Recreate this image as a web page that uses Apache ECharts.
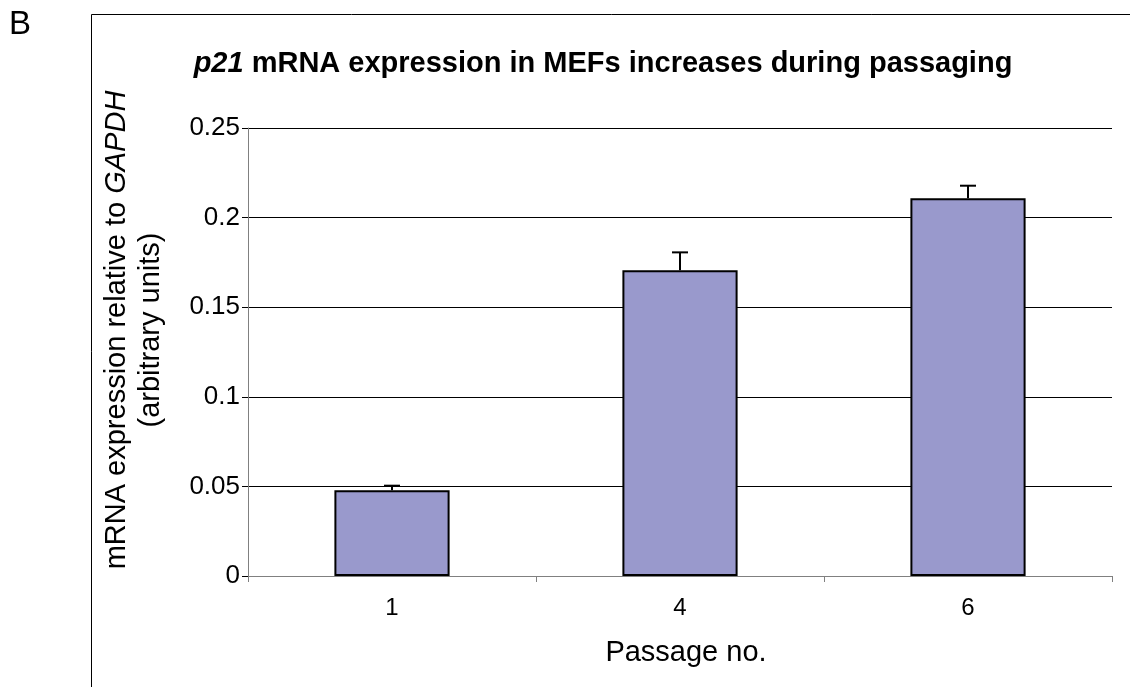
<!DOCTYPE html>
<html><head><meta charset="utf-8">
<script src="https://cdn.jsdelivr.net/npm/echarts@6/dist/echarts.min.js"></script>
<style>html,body{margin:0;padding:0;background:#fff}#c{width:1130px;height:687px}</style>
</head><body><div id="c"></div>
<script>
var categories = ['1', '4', '6'];
var values = [0.0478, 0.1706, 0.2108];
var errors = [0.0026, 0.0100, 0.0070];
var yTicks = [0, 0.05, 0.1, 0.15, 0.2, 0.25];

var FONT = '"Liberation Sans", Arial, sans-serif';
var chart = echarts.init(document.getElementById('c'), null, {renderer: 'canvas'});
chart.setOption({
  backgroundColor: '#fff',
  animation: false,
  title: {
    text: '{i|p21} mRNA expression in MEFs increases during passaging',
    left: 598, top: 44, textAlign: 'center',
    textStyle: {
      fontFamily: FONT, fontSize: 29, fontWeight: 'bold', color: '#000',
      rich: { i: { fontFamily: FONT, fontSize: 29, fontWeight: 'bold', fontStyle: 'italic', color: '#000' } }
    }
  },
  graphic: [
    { type: 'rect', shape: {x: 91.5, y: 14.5, width: 1200, height: 800}, style: {fill: null, stroke: '#000', lineWidth: 1}, silent: true, z: -1 },
    { type: 'text', left: 9, top: 8, style: {text: 'B', font: '33px ' + FONT, fill: '#000'} }
  ],
  grid: { left: 248, top: 128, right: 18, bottom: 111, containLabel: false },
  xAxis: {
    type: 'category', data: categories,
    name: 'Passage no.', nameLocation: 'middle', nameGap: 62,
    nameTextStyle: { fontFamily: FONT, fontSize: 29, color: '#000', padding: [0, 0, 0, 12] },
    axisLine: { lineStyle: { color: '#808080', width: 1 } },
    axisTick: { show: true, alignWithLabel: false, length: 6, lineStyle: { color: '#808080' } },
    axisLabel: { fontFamily: FONT, fontSize: 24, color: '#000', margin: 20 }
  },
  yAxis: {
    type: 'value', min: 0, max: 0.25, interval: 0.05,
    name: 'mRNA expression relative to {i|GAPDH}\n(arbitrary units)',
    nameLocation: 'middle', nameGap: 80, nameRotate: 90,
    nameTextStyle: {
      fontFamily: FONT, fontSize: 29, color: '#000', lineHeight: 34, align: 'center',
      padding: [0, 0, 0, 44],
      rich: { i: { fontFamily: FONT, fontSize: 29, fontStyle: 'italic', color: '#000', lineHeight: 34 } }
    },
    axisLine: { show: true, lineStyle: { color: '#808080', width: 1 } },
    axisTick: { show: true, length: 6, lineStyle: { color: '#000' } },
    axisLabel: {
      fontFamily: FONT, fontSize: 26, color: '#000', margin: 8,
      formatter: function (v) { return yTicks.indexOf(Math.round(v*100)/100) >= 0 ? String(Math.round(v*100)/100) : ''; }
    },
    splitLine: { show: true, lineStyle: { color: '#000', width: 1 } }
  },
  series: [
    {
      type: 'bar', data: values, barWidth: '40%',
      itemStyle: { color: '#9999CC', borderColor: '#000', borderWidth: 2 },
      z: 2
    },
    {
      type: 'custom', z: 3,
      data: values.map(function (v, i) { return [i, v, v + errors[i]]; }),
      renderItem: function (params, api) {
        var base = api.coord([api.value(0), api.value(1)]);
        var top = api.coord([api.value(0), api.value(2)]);
        var hw = 8;
        return {
          type: 'group',
          children: [
            { type: 'line', shape: {x1: base[0], y1: base[1], x2: top[0], y2: top[1]}, style: {stroke: '#000', lineWidth: 2} },
            { type: 'line', shape: {x1: top[0] - hw, y1: top[1], x2: top[0] + hw, y2: top[1]}, style: {stroke: '#000', lineWidth: 2} }
          ]
        };
      }
    }
  ]
});
</script></body></html>
